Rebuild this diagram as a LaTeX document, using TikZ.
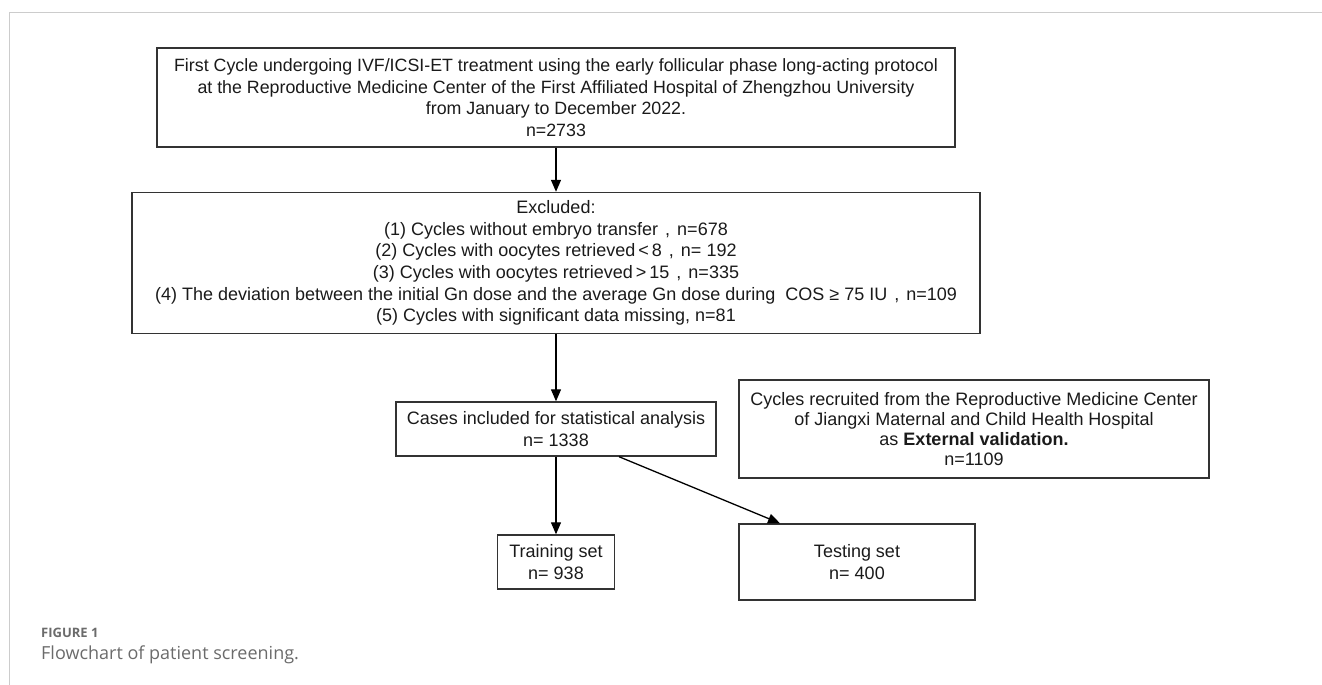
\documentclass[tikz,border=0pt]{standalone}
\usepackage{fontspec}
\setmainfont{Liberation Sans}
\newfontfamily\capfont{Open Sans}
\usetikzlibrary{arrows.meta}
\definecolor{framegray}{HTML}{CCCCCC}
\definecolor{boxline}{HTML}{333333}
\definecolor{txt}{HTML}{1A1A1A}
\definecolor{capgray}{HTML}{6B6B6B}
\tikzset{
  box/.style={draw=boxline, line width=1.4pt, inner sep=0pt, align=center, text=txt},
  arr/.style={draw=black, line width=1.3pt, -{Triangle[length=12pt,width=10pt]}},
  fa/.style={font=\fontsize{17.8}{21.7}\selectfont},
  fb/.style={font=\fontsize{18}{21.7}\selectfont},
  fc/.style={font=\fontsize{18}{19.8}\selectfont},
}
\newcommand{\cmsep}{\hspace{7pt},\hspace{7pt}}
\begin{document}
\begin{tikzpicture}[x=1pt,y=1pt]
\useasboundingbox (0,0) rectangle (1322,-685);
\draw[framegray, line width=1pt] (9,-685) -- (9,-13) -- (1322,-13);
\node[box, fa, minimum width=798pt, minimum height=99pt] (b1) at (556,-97.5)
  {First Cycle undergoing IVF/ICSI-ET treatment using the early follicular phase long-acting protocol\\
   at the Reproductive Medicine Center of the First Affiliated Hospital of Zhengzhou University\\
   from January to December 2022.\\
   n=2733};
\node[box, fb, minimum width=848pt, minimum height=141pt] (b2) at (556,-263)
  {Excluded:\\
   (1) Cycles without embryo transfer\cmsep n=678\\
   (2) Cycles with oocytes retrieved\hspace{3pt}<\hspace{3pt}8\cmsep n= 192\\
   (3) Cycles with oocytes retrieved\hspace{3pt}>\hspace{3pt}15\cmsep n=335\\
   (4) The deviation between the initial Gn dose and the average Gn dose during\ \ COS ≥ 75 IU\cmsep n=109\\
   (5) Cycles with significant data missing, n=81};
\node[box, fb, minimum width=320pt, minimum height=54pt] (b3) at (556,-429)
  {Cases included for statistical analysis\\ n= 1338};
\node[box, fc, minimum width=470pt, minimum height=98pt] (b4) at (974,-429)
  {Cycles recruited from the Reproductive Medicine Center\\
   of Jiangxi Maternal and Child Health Hospital\\
   as \textbf{External validation.}\\
   n=1109};
\node[box, fb, minimum width=117pt, minimum height=54pt] (train) at (556,-562)
  {Training set\\ n= 938};
\node[box, fb, minimum width=236pt, minimum height=76pt] (test) at (857,-562)
  {Testing set\\ n= 400};
\draw[arr] (b1.south) -- (b2.north);
\draw[arr] (b2.south) -- (b3.north);
\draw[arr] (b3.south) -- (train.north);
\draw[arr] ([xshift=63pt]b3.south) -- ([xshift=-77pt]test.north);
\node[anchor=base west, inner sep=0pt, text=capgray, font=\capfont\bfseries\fontsize{13}{15}\selectfont] (cap1) at (41,-637) {FIGURE 1};
\node[anchor=base west, inner sep=0pt, text=capgray, font=\capfont\fontsize{18}{20}\selectfont] (cap2) at (41,-659) {Flowchart of patient screening.};
\end{tikzpicture}
\end{document}
